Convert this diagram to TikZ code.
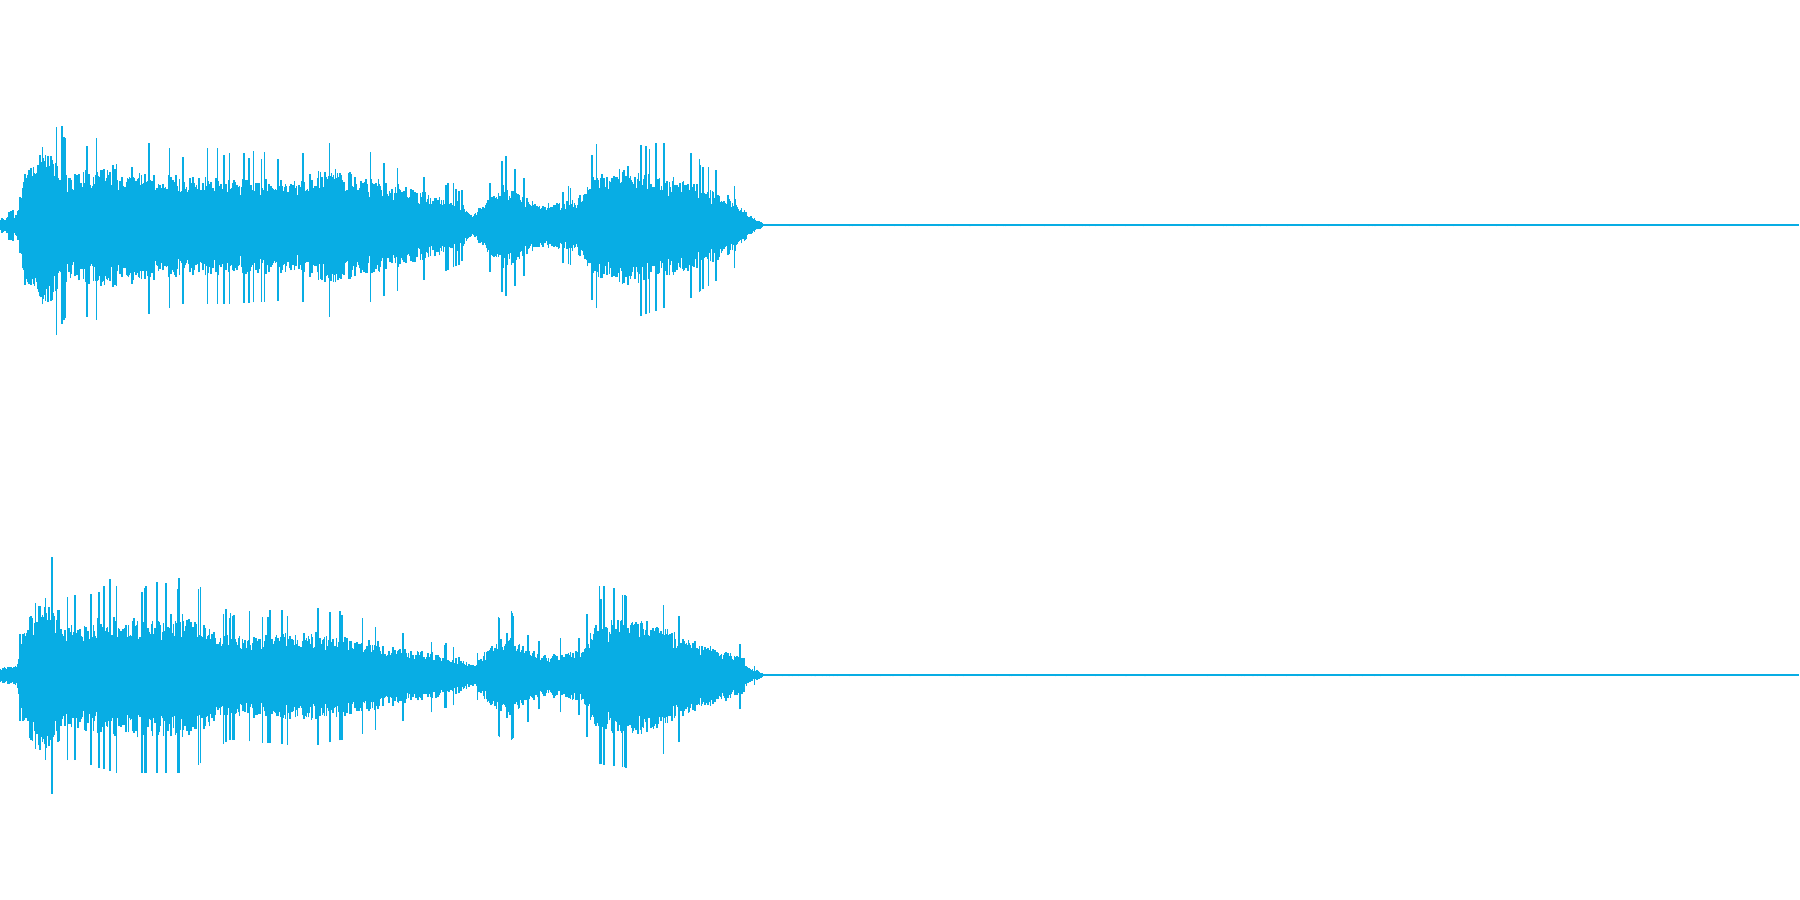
\documentclass[tikz,border=0pt]{standalone}
\definecolor{wave}{HTML}{08ADE4}
\tikzset{wline/.style={draw=wave,line width=0.45pt}}
\begin{document}
\begin{tikzpicture}
\useasboundingbox (0,0) rectangle (18,9);
\pgfmathsetseed{7}
\foreach \cy/\envlist in {6.75/{0/8/15/12, 15/12/22/65, 22/65/38/95, 38/95/60/60, 60/60/100/70, 100/70/130/62, 130/62/160/55, 160/55/200/55, 200/55/260/52, 260/52/290/65, 290/65/340/48, 340/48/400/28, 400/28/412/12, 412/12/440/50, 440/50/470/24, 470/24/500/28, 500/28/520/58, 520/58/550/66, 550/66/600/52, 600/52/640/30, 640/30/655/10, 655/10/665/3},
                          2.25/{0/8/15/12, 15/12/22/65, 22/65/38/95, 38/95/60/58, 60/58/100/68, 100/68/165/68, 165/68/200/45, 200/45/270/50, 270/50/300/45, 300/45/360/30, 360/30/400/20, 400/20/412/12, 412/12/440/50, 440/50/470/24, 470/24/505/28, 505/28/520/62, 520/62/560/66, 560/66/600/42, 600/42/645/24, 645/24/655/8, 655/8/665/3}}{
  \begin{scope}[shift={(0,\cy)},x=0.01148cm,y=0.01148cm]
    \draw[wline] (0,0) -- (1568,0);
    \foreach \xa/\ea/\xb/\eb in \envlist {
      \pgfmathtruncatemacro\n{(\xb-\xa)/0.8}
      \ifnum\n>0
      \foreach \k in {0,...,\n}{
        \pgfmathsetmacro\xx{\xa+\k*0.8}
        \pgfmathsetmacro\ee{\ea+(\eb-\ea)*\k/\n}
        \pgfmathsetmacro\sp{rnd>0.92 ? 1.25 : 0.5+0.3*rnd}
        \pgfmathsetmacro\aa{\ee*\sp}
        \pgfmathsetmacro\bb{\ee*(\sp*(0.85+0.15*rnd))}
        \draw[wline] (\xx,-\aa) -- (\xx,\bb);
      }
      \fi
    }
    \foreach \k in {0,...,60}{
      \pgfmathsetmacro\xx{670+rnd*660}
      \draw[wline] (\xx,-1.2) -- (\xx,1.2);
    }
  \end{scope}
}
\end{tikzpicture}
\end{document}
